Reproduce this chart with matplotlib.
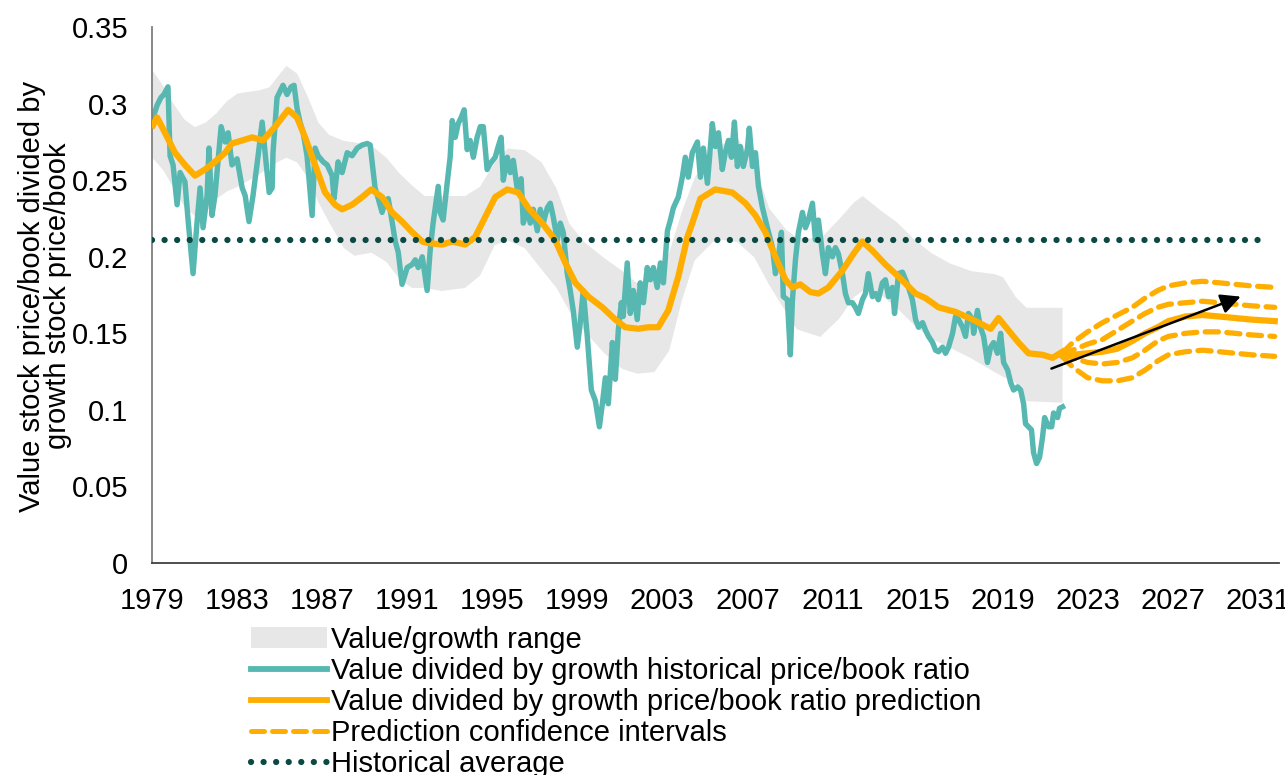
import matplotlib
matplotlib.use("Agg")
import matplotlib.pyplot as plt
from matplotlib.patches import Patch
from matplotlib.lines import Line2D

plt.rcParams['font.family'] = ['Liberation Sans', 'DejaVu Sans']

# historical value/growth price-to-book ratio
hist_years = [1979.05, 1979.24, 1979.42, 1979.56, 1979.75, 1979.85, 1979.99, 1980.18, 1980.32, 1980.55,
              1980.69, 1980.93, 1981.12, 1981.26, 1981.40, 1981.59, 1981.68, 1981.82, 1981.96, 1982.25,
              1982.44, 1982.58, 1982.76, 1983.00, 1983.24, 1983.38, 1983.56, 1983.75, 1983.99, 1984.18,
              1984.36, 1984.51, 1984.65, 1984.69, 1984.88, 1985.02, 1985.16, 1985.35, 1985.54, 1985.68,
              1985.82, 1985.96, 1986.11, 1986.29, 1986.53, 1986.67, 1986.81, 1987.05, 1987.24, 1987.47,
              1987.56, 1987.75, 1987.94, 1988.18, 1988.41, 1988.65, 1988.88, 1989.12, 1989.26, 1989.49,
              1989.64, 1989.82, 1989.96, 1990.11, 1990.29, 1990.44, 1990.58, 1990.76, 1991.00, 1991.24,
              1991.38, 1991.52, 1991.71, 1991.94, 1992.08, 1992.22, 1992.46, 1992.55, 1992.69, 1992.88,
              1993.02, 1993.12, 1993.26, 1993.40, 1993.54, 1993.68, 1993.82, 1993.96, 1994.11, 1994.29,
              1994.44, 1994.58, 1994.76, 1994.91, 1995.14, 1995.28, 1995.42, 1995.52, 1995.71, 1995.85,
              1995.99, 1996.18, 1996.36, 1996.46, 1996.65, 1996.79, 1996.93, 1997.12, 1997.26, 1997.40,
              1997.59, 1997.73, 1997.87, 1998.06, 1998.20, 1998.34, 1998.53, 1998.67, 1998.81, 1999.00,
              1999.14, 1999.28, 1999.47, 1999.66, 1999.85, 2000.04, 2000.18, 2000.32, 2000.46, 2000.65,
              2000.79, 2000.93, 2001.07, 2001.16, 2001.35, 2001.49, 2001.64, 2001.82, 2001.96, 2002.11,
              2002.29, 2002.44, 2002.58, 2002.76, 2002.91, 2003.05, 2003.24, 2003.38, 2003.52, 2003.75,
              2003.94, 2004.08, 2004.22, 2004.41, 2004.65, 2004.79, 2004.93, 2005.12, 2005.35, 2005.49,
              2005.64, 2005.82, 2005.96, 2006.11, 2006.25, 2006.39, 2006.53, 2006.67, 2006.81, 2007.00,
              2007.09, 2007.24, 2007.38, 2007.52, 2007.71, 2007.94, 2008.18, 2008.32, 2008.46, 2008.60,
              2008.69, 2008.88, 2009.02, 2009.12, 2009.26, 2009.40, 2009.59, 2009.73, 2009.87, 2010.06,
              2010.20, 2010.34, 2010.53, 2010.67, 2010.81, 2011.00, 2011.14, 2011.28, 2011.47, 2011.61,
              2011.75, 2011.94, 2012.08, 2012.22, 2012.41, 2012.55, 2012.69, 2012.88, 2013.02, 2013.16,
              2013.35, 2013.49, 2013.64, 2013.82, 2013.92, 2014.11, 2014.29, 2014.44, 2014.58, 2014.76,
              2014.91, 2015.05, 2015.24, 2015.38, 2015.52, 2015.71, 2015.85, 2015.99, 2016.18, 2016.32,
              2016.46, 2016.65, 2016.79, 2016.93, 2017.12, 2017.26, 2017.40, 2017.59, 2017.64, 2017.82,
              2017.96, 2018.11, 2018.29, 2018.44, 2018.58, 2018.76, 2018.91, 2019.05, 2019.24, 2019.38,
              2019.52, 2019.71, 2019.85, 2019.99, 2020.08, 2020.22, 2020.36, 2020.46, 2020.60, 2020.74,
              2020.88, 2020.98, 2021.16, 2021.31, 2021.40, 2021.59, 2021.68, 2021.82]
hist_ratio = [0.291, 0.299, 0.304, 0.306, 0.311, 0.266, 0.260, 0.234, 0.255, 0.249,
              0.225, 0.189, 0.223, 0.245, 0.219, 0.240, 0.271, 0.227, 0.240, 0.285,
              0.275, 0.281, 0.260, 0.264, 0.245, 0.240, 0.223, 0.240, 0.266, 0.288,
              0.262, 0.242, 0.245, 0.268, 0.304, 0.308, 0.312, 0.306, 0.311, 0.312,
              0.297, 0.288, 0.281, 0.266, 0.227, 0.271, 0.266, 0.262, 0.260, 0.253,
              0.238, 0.262, 0.255, 0.268, 0.266, 0.271, 0.273, 0.274, 0.273, 0.245,
              0.238, 0.229, 0.236, 0.238, 0.223, 0.210, 0.203, 0.182, 0.193, 0.195,
              0.198, 0.193, 0.200, 0.178, 0.204, 0.222, 0.246, 0.229, 0.224, 0.248,
              0.265, 0.289, 0.278, 0.287, 0.291, 0.296, 0.270, 0.276, 0.265, 0.278,
              0.285, 0.285, 0.257, 0.261, 0.265, 0.272, 0.278, 0.250, 0.265, 0.255,
              0.263, 0.244, 0.251, 0.222, 0.231, 0.222, 0.231, 0.217, 0.231, 0.222,
              0.232, 0.235, 0.226, 0.211, 0.222, 0.216, 0.189, 0.178, 0.165, 0.141,
              0.157, 0.178, 0.148, 0.113, 0.106, 0.089, 0.104, 0.121, 0.104, 0.144,
              0.120, 0.152, 0.170, 0.161, 0.196, 0.163, 0.178, 0.159, 0.183, 0.170,
              0.193, 0.185, 0.193, 0.180, 0.196, 0.183, 0.217, 0.224, 0.232, 0.239,
              0.252, 0.265, 0.252, 0.268, 0.275, 0.252, 0.271, 0.248, 0.287, 0.272,
              0.281, 0.257, 0.268, 0.276, 0.265, 0.288, 0.259, 0.272, 0.259, 0.270,
              0.284, 0.259, 0.268, 0.246, 0.232, 0.219, 0.206, 0.189, 0.200, 0.216,
              0.174, 0.172, 0.136, 0.172, 0.198, 0.216, 0.229, 0.219, 0.224, 0.235,
              0.211, 0.224, 0.202, 0.189, 0.206, 0.200, 0.206, 0.202, 0.189, 0.176,
              0.170, 0.170, 0.167, 0.163, 0.172, 0.176, 0.189, 0.174, 0.176, 0.172,
              0.183, 0.185, 0.174, 0.180, 0.163, 0.189, 0.190, 0.185, 0.180, 0.172,
              0.159, 0.154, 0.157, 0.152, 0.148, 0.144, 0.139, 0.138, 0.141, 0.137,
              0.141, 0.150, 0.161, 0.159, 0.154, 0.148, 0.163, 0.159, 0.150, 0.165,
              0.154, 0.148, 0.131, 0.141, 0.144, 0.137, 0.150, 0.131, 0.126, 0.118,
              0.113, 0.115, 0.113, 0.104, 0.091, 0.089, 0.087, 0.072, 0.065, 0.069,
              0.082, 0.095, 0.089, 0.089, 0.098, 0.095, 0.101, 0.102]

# model prediction over the historical period
pred_years = [1979.05, 1979.24, 1979.61, 1980.08, 1980.55, 1981.02, 1981.49, 1981.96, 1982.44, 1982.76,
              1983.24, 1983.71, 1984.22, 1984.79, 1985.40, 1985.82, 1986.20, 1986.67, 1987.14, 1987.61,
              1987.94, 1988.41, 1988.88, 1989.31, 1989.82, 1990.29, 1990.76, 1991.24, 1991.71, 1991.99,
              1992.65, 1993.12, 1993.73, 1994.20, 1994.67, 1995.14, 1995.71, 1996.22, 1996.69, 1997.35,
              1997.96, 1998.44, 1998.91, 1999.52, 2000.18, 2000.79, 2001.26, 2001.87, 2002.34, 2002.81,
              2003.28, 2003.75, 2004.18, 2004.41, 2004.79, 2005.49, 2006.29, 2006.91, 2007.38, 2007.85,
              2008.32, 2008.79, 2009.12, 2009.49, 2009.96, 2010.34, 2010.81, 2011.47, 2011.99, 2012.41,
              2012.88, 2013.49, 2014.11, 2014.91, 2015.38, 2015.99, 2016.79, 2017.59, 2018.44, 2018.81,
              2019.28, 2019.75, 2020.22, 2020.88, 2021.35, 2021.82]
pred_ratio = [0.286, 0.291, 0.281, 0.268, 0.260, 0.253, 0.257, 0.262, 0.268, 0.274,
              0.276, 0.278, 0.276, 0.285, 0.296, 0.291, 0.278, 0.260, 0.242, 0.234,
              0.231, 0.234, 0.239, 0.244, 0.239, 0.229, 0.223, 0.216, 0.210, 0.209,
              0.208, 0.210, 0.208, 0.213, 0.226, 0.239, 0.244, 0.242, 0.232, 0.222,
              0.211, 0.196, 0.183, 0.174, 0.167, 0.159, 0.154, 0.153, 0.154, 0.154,
              0.165, 0.187, 0.213, 0.222, 0.238, 0.244, 0.242, 0.235, 0.227, 0.216,
              0.200, 0.185, 0.180, 0.182, 0.177, 0.176, 0.180, 0.191, 0.202, 0.210,
              0.204, 0.195, 0.187, 0.176, 0.173, 0.167, 0.164, 0.159, 0.153, 0.160,
              0.152, 0.144, 0.137, 0.136, 0.134, 0.138]

# value/growth range band
band_years = [1979.0, 1979.5, 1980.0, 1980.5, 1981.0, 1981.5, 1982.0, 1982.5, 1983.0, 1983.5,
              1984.0, 1984.5, 1985.0, 1985.3, 1985.8, 1986.3, 1986.8, 1987.3, 1988.0, 1988.5,
              1989.3, 1990.0, 1990.6, 1991.2, 1991.8, 1992.6, 1993.7, 1994.4, 1995.1, 1995.7,
              1996.5, 1997.3, 1998.0, 1998.6, 1999.3, 2000.2, 2001.1, 2001.8, 2002.6, 2003.3,
              2003.9, 2004.5, 2005.5, 2006.5, 2007.3, 2008.0, 2008.8, 2009.3, 2010.4, 2011.3,
              2012.0, 2012.4, 2013.3, 2014.0, 2014.8, 2015.6, 2016.5, 2017.5, 2018.6, 2019.0,
              2019.6, 2020.1, 2021.8]
band_upper = [0.322, 0.312, 0.300, 0.290, 0.285, 0.288, 0.294, 0.302, 0.307, 0.308,
              0.309, 0.311, 0.320, 0.325, 0.320, 0.305, 0.288, 0.280, 0.276, 0.275,
              0.273, 0.265, 0.255, 0.247, 0.240, 0.240, 0.240, 0.246, 0.262, 0.271,
              0.270, 0.262, 0.245, 0.222, 0.210, 0.200, 0.191, 0.183, 0.186, 0.203,
              0.230, 0.252, 0.272, 0.278, 0.262, 0.232, 0.218, 0.213, 0.212, 0.225,
              0.236, 0.240, 0.230, 0.223, 0.212, 0.203, 0.196, 0.191, 0.189, 0.187,
              0.174, 0.167, 0.167]
band_lower = [0.265, 0.257, 0.245, 0.233, 0.227, 0.229, 0.238, 0.243, 0.246, 0.250,
              0.254, 0.259, 0.263, 0.265, 0.262, 0.252, 0.236, 0.223, 0.206, 0.201,
              0.203, 0.197, 0.186, 0.180, 0.180, 0.178, 0.180, 0.188, 0.208, 0.211,
              0.206, 0.192, 0.180, 0.165, 0.152, 0.138, 0.127, 0.124, 0.125, 0.139,
              0.172, 0.198, 0.212, 0.210, 0.200, 0.182, 0.164, 0.153, 0.148, 0.160,
              0.174, 0.178, 0.175, 0.167, 0.156, 0.147, 0.141, 0.134, 0.125, 0.122,
              0.118, 0.106, 0.105]

# forecast and confidence intervals
fc_years = [2021.8, 2022.3, 2023.0, 2023.7, 2024.4, 2025.1, 2025.7, 2026.3, 2026.8, 2027.6,
            2028.4, 2029.2, 2030.7, 2031.8]
fc_mean = [0.136, 0.136, 0.137, 0.138, 0.140, 0.145, 0.150, 0.154, 0.158, 0.161,
           0.162, 0.161, 0.159, 0.158]
fc_hi2 = [0.137, 0.144, 0.151, 0.157, 0.162, 0.167, 0.173, 0.178, 0.181, 0.183,
          0.184, 0.183, 0.181, 0.180]
fc_hi1 = [0.136, 0.139, 0.143, 0.146, 0.152, 0.158, 0.163, 0.167, 0.169, 0.170,
          0.171, 0.170, 0.168, 0.167]
fc_lo1 = [0.136, 0.134, 0.131, 0.130, 0.131, 0.134, 0.139, 0.145, 0.148, 0.150,
          0.151, 0.151, 0.149, 0.148]
fc_lo2 = [0.135, 0.128, 0.121, 0.119, 0.119, 0.121, 0.126, 0.132, 0.136, 0.138,
          0.139, 0.138, 0.136, 0.135]

hist_avg = 0.211
avg_span = [1979.0, 2031.4]
arrow_start = (2021.3, 0.127)
arrow_end = (2030.2, 0.174)

TEAL = "#56b8b1"
ORANGE = "#ffae00"
DARK = "#0b4a44"
GREY = "#e6e7e6"

fig = plt.figure(figsize=(12.85, 7.75), dpi=100)
ax = fig.add_axes([0.1183, 0.2735, 0.8770, 0.6915])

ax.fill_between(band_years, band_lower, band_upper, color=GREY, linewidth=0, zorder=1)
ax.plot(hist_years, hist_ratio, color=TEAL, lw=3.9, solid_joinstyle="round", zorder=2)
ax.plot(pred_years, pred_ratio, color=ORANGE, lw=4.5, solid_joinstyle="round", zorder=3)
ax.plot(fc_years, fc_mean, color=ORANGE, lw=4.5, zorder=3)
for band in (fc_hi2, fc_hi1, fc_lo1, fc_lo2):
    ax.plot(fc_years, band, color=ORANGE, lw=3.8, ls=(0, (2.5, 1.6)),
            dash_capstyle="round", zorder=3)
ax.plot(avg_span, [hist_avg, hist_avg], color=DARK, lw=4.5, ls=(0, (0.01, 2.0)),
        dash_capstyle="round", zorder=4)
ax.annotate("", xy=arrow_end, xytext=arrow_start,
            arrowprops=dict(arrowstyle="-|>", color="black", lw=1.8, mutation_scale=30,
                            shrinkA=0, shrinkB=0), zorder=5)

ax.set_xlim(1979, 2032)
ax.set_ylim(0, 0.35)
ax.set_xticks(range(1979, 2032, 4))
ax.set_yticks([0, 0.05, 0.1, 0.15, 0.2, 0.25, 0.3, 0.35])
ax.set_yticklabels(["0", "0.05", "0.1", "0.15", "0.2", "0.25", "0.3", "0.35"])
ax.tick_params(axis="x", length=0, pad=17, labelsize=21)
ax.tick_params(axis="y", length=0, pad=17, labelsize=21)
for s in ("top", "right"):
    ax.spines[s].set_visible(False)
ax.spines["left"].set_color("#7f7f7f")
ax.spines["bottom"].set_color("#404040")
ax.spines["left"].set_linewidth(1.3)
ax.spines["bottom"].set_linewidth(1.3)

fig.text(0.035, 0.618, "Value stock price/book divided by\ngrowth stock price/book",
         rotation=90, ha="center", va="center", fontsize=21, linespacing=0.95)

handles = [
    Patch(facecolor=GREY, edgecolor="none"),
    Line2D([], [], color=TEAL, lw=4.2),
    Line2D([], [], color=ORANGE, lw=4.2),
    Line2D([], [], color=ORANGE, lw=3.6, ls=(0, (2.6, 1.6)), dash_capstyle="round"),
    Line2D([], [], color=DARK, lw=4.5, ls=(0, (0.01, 2.0)), dash_capstyle="round"),
]
labels = ["Value/growth range",
          "Value divided by growth historical price/book ratio",
          "Value divided by growth price/book ratio prediction",
          "Prediction confidence intervals",
          "Historical average"]
fig.legend(handles, labels, loc="upper left", bbox_to_anchor=(0.1955, 0.1925), frameon=False,
           fontsize=21, handlelength=2.6, handleheight=0.7, handletextpad=0.15,
           labelspacing=0.105, borderpad=0, borderaxespad=0)

fig.savefig("out.png", dpi=100)
